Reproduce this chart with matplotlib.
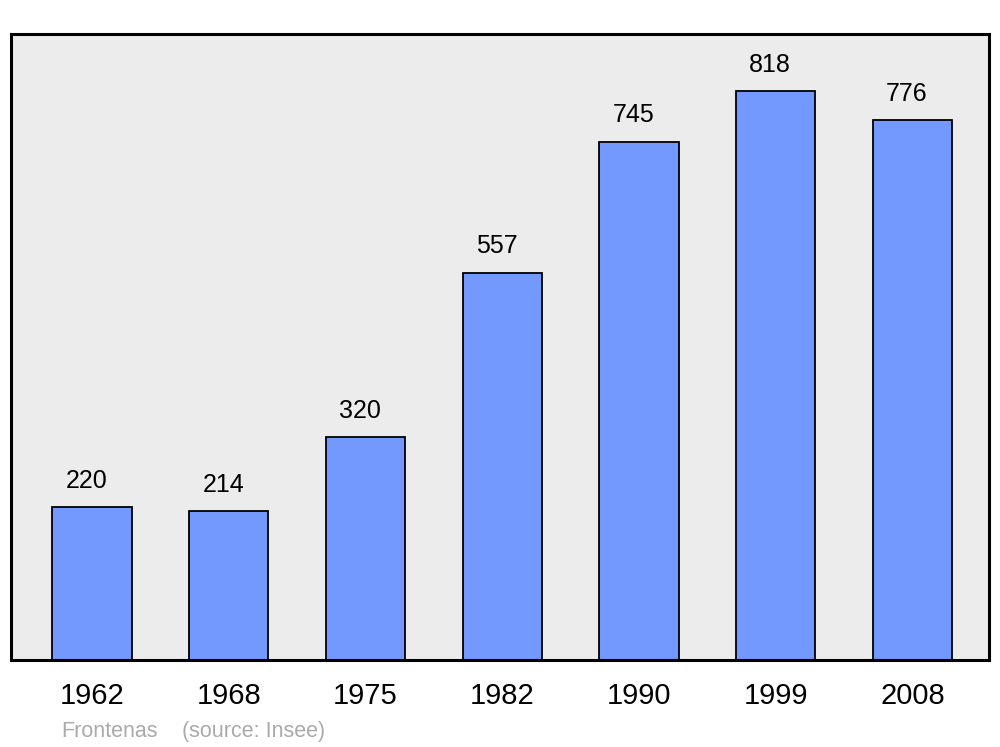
import matplotlib.pyplot as plt

years = ["1962", "1968", "1975", "1982", "1990", "1999", "2008"]
population = [220, 214, 320, 557, 745, 818, 776]

plt.rcParams['font.family'] = ['Liberation Sans', 'DejaVu Sans']

fig = plt.figure(figsize=(10, 7.47), dpi=100)
ax = fig.add_axes([0.011, 0.1165, 0.978, 0.838])
ax.set_facecolor('#ececec')

x = list(range(len(years)))
ax.bar(x, population, width=0.58, color='#7399ff', edgecolor='black', linewidth=1.3, zorder=2)

for xi, v in zip(x, population):
    ax.text(xi - 0.04, v + 38, str(v), ha='center', va='center', fontsize=18)

ax.set_xlim(-0.592, 6.56)
ax.set_ylim(0, 900)
ax.set_xticks(x)
ax.set_xticklabels(years, fontsize=21)
ax.tick_params(axis='x', length=0, pad=16)
ax.set_yticks([])
for s in ax.spines.values():
    s.set_linewidth(2.2)

fig.text(0.061, 0.013, "Frontenas", color='#aaaaaa', fontsize=15.5)
fig.text(0.182, 0.013, "(source: Insee)", color='#aaaaaa', fontsize=15.5)

fig.savefig('out.png', dpi=100)
